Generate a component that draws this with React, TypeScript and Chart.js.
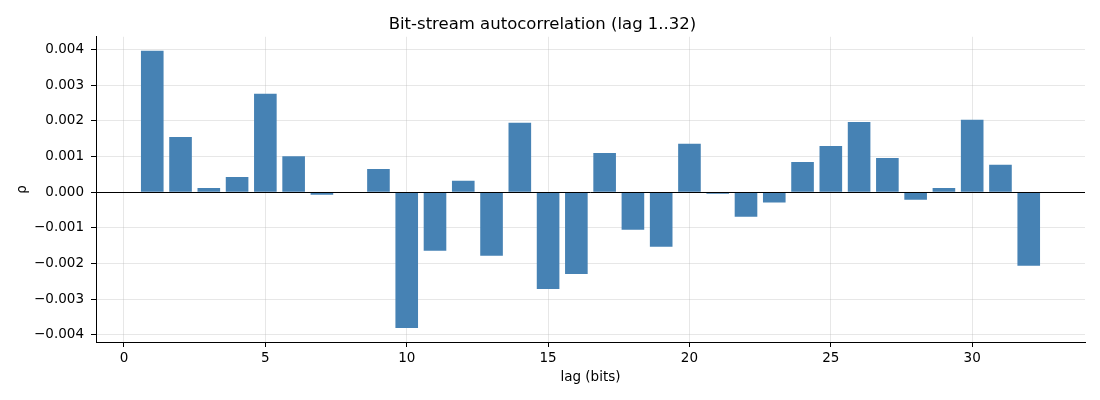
import { useEffect, useRef } from 'react';
import { Chart, registerables } from 'chart.js';

Chart.register(...registerables);

// lag 1..32 and the measured autocorrelation at each lag
const lags = [1, 2, 3, 4, 5, 6, 7, 8, 9, 10, 11, 12, 13, 14, 15, 16, 17, 18, 19, 20, 21, 22, 23, 24, 25, 26, 27, 28, 29, 30, 31, 32];
const rho = [
  0.00397, 0.00155, 0.00012, 0.00043, 0.00276, 0.00101, -0.00007, 0.0,
  0.00065, -0.00381, -0.00164, 0.00032, -0.00178, 0.00195, -0.00271, -0.00229,
  0.0011, -0.00105, -0.00153, 0.00136, -0.00004, -0.00069, -0.00029, 0.00085,
  0.0013, 0.00197, 0.00096, -0.00021, 0.00012, 0.00203, 0.00077, -0.00206,
];

const xTicks = [0, 5, 10, 15, 20, 25, 30];
const yTicks = [-0.004, -0.003, -0.002, -0.001, 0, 0.001, 0.002, 0.003, 0.004];

const FONT = "'DejaVu Sans', sans-serif";

const zeroLine = {
  id: 'zeroLine',
  afterDraw(chart: Chart) {
    const { ctx, chartArea } = chart;
    const y = Math.round(chart.scales.y.getPixelForValue(0)) + 0.5;
    ctx.save();
    ctx.strokeStyle = '#000';
    ctx.lineWidth = 1;
    ctx.beginPath();
    ctx.moveTo(chartArea.left, y);
    ctx.lineTo(chartArea.right, y);
    ctx.stroke();
    ctx.restore();
  },
};

export default function App() {
  const canvasRef = useRef<HTMLCanvasElement>(null);

  useEffect(() => {
    document.body.style.margin = '0';
    if (!canvasRef.current) return;
    const ctx = canvasRef.current.getContext('2d');
    if (!ctx) return;

    const chart = new Chart(ctx, {
      type: 'bar',
      data: {
        datasets: [{
          data: lags.map((l, i) => ({ x: l, y: rho[i] })),
          backgroundColor: '#4682b4',
          borderWidth: 0,
          barPercentage: 0.8,
          categoryPercentage: 1.0,
        }],
      },
      options: {
        animation: false,
        responsive: true,
        maintainAspectRatio: false,
        devicePixelRatio: 1,
        layout: { padding: { left: 0, right: 15, top: 0, bottom: 0 } },
        plugins: {
          legend: { display: false },
          tooltip: { enabled: false },
          title: {
            display: true,
            text: 'Bit-stream autocorrelation (lag 1..32)',
            color: '#000',
            font: { family: FONT, size: 16.5, weight: 'normal' },
            padding: { top: 15, bottom: 2 },
          },
        },
        scales: {
          x: {
            type: 'linear',
            min: -0.99,
            max: 33.99,
            offset: false,
            z: 1,
            afterBuildTicks: (scale) => {
              scale.ticks = xTicks.map((v) => ({ value: v }));
            },
            afterFit: (scale) => {
              scale.height = 58;
            },
            grid: {
              offset: false,
              color: 'rgba(176,176,176,0.3)',
              lineWidth: 1,
              tickColor: '#000',
              tickLength: 5,
            },
            border: { display: true, color: '#000', width: 1 },
            ticks: {
              color: '#000',
              padding: 3,
              font: { family: FONT, size: 13.5 },
              callback: (v) => String(v),
            },
            title: {
              display: true,
              text: 'lag (bits)',
              color: '#000',
              font: { family: FONT, size: 13.5 },
              padding: { top: 0, bottom: 14 },
            },
          },
          y: {
            type: 'linear',
            min: -0.0042,
            max: 0.00436,
            z: 1,
            afterBuildTicks: (scale) => {
              scale.ticks = yTicks.map((v) => ({ value: v }));
            },
            afterFit: (scale) => {
              scale.width = 96;
            },
            grid: {
              color: 'rgba(176,176,176,0.3)',
              lineWidth: 1,
              tickColor: '#000',
              tickLength: 5,
            },
            border: { display: true, color: '#000', width: 1 },
            ticks: {
              color: '#000',
              padding: 7,
              font: { family: FONT, size: 13.5 },
              callback: (v) => {
                const n = Number(v);
                const s = Math.abs(n).toFixed(3);
                return n < -1e-9 ? '\u2212' + s : s;
              },
            },
            title: {
              display: true,
              text: 'ρ',
              color: '#000',
              font: { family: FONT, size: 13.5 },
              padding: { top: 14, bottom: 0 },
            },
          },
        },
      },
      plugins: [zeroLine],
    });

    return () => {
      chart.destroy();
    };
  }, []);

  return (
    <div style={{ width: 1100, height: 400, position: 'relative' }}>
      <canvas ref={canvasRef} />
    </div>
  );
}
